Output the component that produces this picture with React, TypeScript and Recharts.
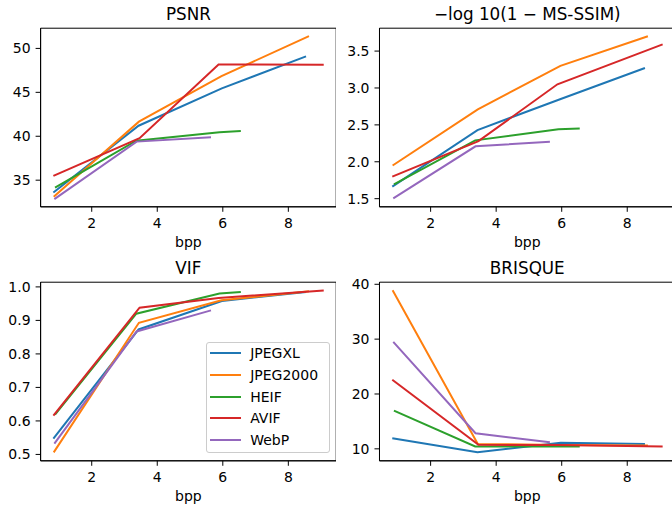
import React from 'react'
import { LineChart, Line, XAxis, YAxis, ReferenceArea, Legend } from 'recharts'

const FONT = '"DejaVu Sans", sans-serif'

const CODECS = ['JPEGXL', 'JPEG2000', 'HEIF', 'AVIF', 'WebP']
const COLORS = ['#1f77b4', '#ff7f0e', '#2ca02c', '#d62728', '#9467bd']

// bits per pixel for each codec
const BPP_JPEGXL = [0.83, 3.43, 5.97, 8.54]
const BPP_JPEG2000 = [0.84, 3.44, 5.96, 8.63]
const BPP_HEIF = [0.88, 3.36, 5.9, 6.55]
const BPP_AVIF = [0.83, 3.46, 5.87, 9.08]
const BPP_WEBP = [0.86, 3.37, 5.64]

const PSNR_JPEGXL = [33.6, 41.2, 45.45, 49.1]
const PSNR_JPEG2000 = [33.1, 41.66, 46.85, 51.4]
const PSNR_HEIF = [34.16, 39.5, 40.45, 40.6]
const PSNR_AVIF = [35.49, 39.77, 48.18, 48.15]
const PSNR_WEBP = [32.84, 39.39, 39.9]

const MSSSIM_JPEGXL = [1.663, 2.43, 2.85, 3.27]
const MSSSIM_JPEG2000 = [1.95, 2.71, 3.3, 3.7]
const MSSSIM_HEIF = [1.694, 2.29, 2.44, 2.45]
const MSSSIM_AVIF = [1.798, 2.28, 3.05, 3.59]
const MSSSIM_WEBP = [1.505, 2.21, 2.27]

const VIF_JPEGXL = [0.547, 0.873, 0.958, 0.985]
const VIF_JPEG2000 = [0.506, 0.893, 0.96, 0.987]
const VIF_HEIF = [0.619, 0.92, 0.98, 0.985]
const VIF_AVIF = [0.616, 0.938, 0.967, 0.989]
const VIF_WEBP = [0.532, 0.867, 0.93]

const BRISQUE_JPEGXL = [11.94, 9.4, 11.1, 10.9]
const BRISQUE_JPEG2000 = [38.9, 10.9, 10.7, 10.6]
const BRISQUE_HEIF = [16.97, 10.42, 10.42, 10.42]
const BRISQUE_AVIF = [22.6, 10.73, 10.7, 10.42]
const BRISQUE_WEBP = [29.5, 12.85, 11.2]

const X_TICKS = [2, 4, 6, 8]
const PSNR_TICKS = [35, 40, 45, 50]
const MSSSIM_TICKS = [1.5, 2.0, 2.5, 3.0, 3.5]
const VIF_TICKS = [0.5, 0.6, 0.7, 0.8, 0.9, 1.0]
const BRISQUE_TICKS = [10, 20, 30, 40]

const BPP = [BPP_JPEGXL, BPP_JPEG2000, BPP_HEIF, BPP_AVIF, BPP_WEBP]

const toSeries = (values: number[][]) =>
  values.map((vals, i) => vals.map((y, j) => ({ x: BPP[i][j], y })))

type Pt = { x: number, y: number }

type PanelProps = {
  title: string
  left: number
  top: number
  yAxisWidth: number
  chartWidth: number
  yDomain: [number, number]
  yTicks: number[]
  fmt: (v: number) => string
  series: Pt[][]
  legend?: boolean
}

const X_DOMAIN: [number, number] = [0.44, 9.46]

const renderLegend = (props: any) => {
  // keep the plotting order, not alphabetical
  const items = [...(props.payload || [])].sort(
    (a: any, b: any) => CODECS.indexOf(a.value) - CODECS.indexOf(b.value)
  )
  return (
    <div style={{
      width: 124, height: 111, boxSizing: 'border-box', border: '1px solid #cccccc',
      borderRadius: 3, background: 'rgba(255,255,255,0.8)', fontFamily: FONT, fontSize: 14,
      color: '#000', paddingTop: 0
    }}>
      {items.map((it: any) => (
        <div key={it.value} style={{ height: 21.6, display: 'flex', alignItems: 'center' }}>
          <div style={{ marginLeft: 3.5, width: 31, height: 2, background: it.color }} />
          <span style={{ marginLeft: 9, lineHeight: '14px' }}>{it.value}</span>
        </div>
      ))}
    </div>
  )
}

function Panel({ title, left, top, yAxisWidth, chartWidth, yDomain, yTicks, fmt, series, legend }: PanelProps) {
  const plotWidth = chartWidth - yAxisWidth
  return (
    <div style={{ position: 'absolute', left, top, width: chartWidth, height: 254 }}>
      <svg width={chartWidth} height={30} style={{ position: 'absolute', left: 0, top: 0 }}>
        <text x={yAxisWidth + plotWidth / 2} y={20} textAnchor="middle" fontFamily={FONT} fontSize={16.8} fill="#000">
          {title}
        </text>
      </svg>
      <LineChart width={chartWidth} height={254} margin={{ top: 28.2, right: 0, left: 0, bottom: 0 }}>
        <XAxis
          dataKey="x"
          type="number"
          domain={X_DOMAIN}
          allowDataOverflow
          ticks={X_TICKS}
          interval={0}
          height={47.2}
          tickSize={5}
          tickMargin={6}
          stroke="#000"
          tick={{ fill: '#000', fontSize: 14, fontFamily: FONT }}
          label={{ value: 'bpp', position: 'insideBottom', offset: 7, fill: '#000', fontSize: 14, fontFamily: FONT }}
        />
        <YAxis
          type="number"
          domain={yDomain}
          allowDataOverflow
          ticks={yTicks}
          interval={0}
          width={yAxisWidth}
          tickSize={5}
          tickMargin={5}
          stroke="#000"
          tickFormatter={fmt}
          tick={{ fill: '#000', fontSize: 14, fontFamily: FONT }}
        />
        {series.map((s, i) => (
          <Line
            key={CODECS[i]}
            name={CODECS[i]}
            data={s}
            dataKey="y"
            type="linear"
            stroke={COLORS[i]}
            strokeWidth={2}
            dot={false}
            activeDot={false}
            isAnimationActive={false}
          />
        ))}
        <ReferenceArea
          x1={X_DOMAIN[0]} x2={X_DOMAIN[1]} y1={yDomain[0]} y2={yDomain[1]}
          fill="none" fillOpacity={0} stroke="#000" strokeWidth={1} ifOverflow="visible"
        />
        {legend && (
          <Legend
            layout="vertical"
            align="center"
            verticalAlign="middle"
            content={renderLegend}
            wrapperStyle={{ left: 205.7, top: 87.7, width: 124 }}
          />
        )}
      </LineChart>
    </div>
  )
}

export default function App() {
  const one = (v: number) => v.toFixed(1)
  const int = (v: number) => String(v)
  return (
    <div style={{ position: 'absolute', left: 0, top: 0, width: 672, height: 508, overflow: 'hidden', background: '#fff' }}>
      <Panel title="PSNR" left={0} top={0} yAxisWidth={40.6} chartWidth={336.2}
        yDomain={[31.97, 52.3]} yTicks={PSNR_TICKS} fmt={int}
        series={toSeries([PSNR_JPEGXL, PSNR_JPEG2000, PSNR_HEIF, PSNR_AVIF, PSNR_WEBP])} />
      <Panel title="−log 10(1 − MS-SSIM)" left={336} top={0} yAxisWidth={43.5} chartWidth={339.1}
        yDomain={[1.39, 3.81]} yTicks={MSSSIM_TICKS} fmt={one}
        series={toSeries([MSSSIM_JPEGXL, MSSSIM_JPEG2000, MSSSIM_HEIF, MSSSIM_AVIF, MSSSIM_WEBP])} />
      <Panel title="VIF" left={0} top={254} yAxisWidth={40.6} chartWidth={336.2}
        yDomain={[0.481, 1.014]} yTicks={VIF_TICKS} fmt={one} legend
        series={toSeries([VIF_JPEGXL, VIF_JPEG2000, VIF_HEIF, VIF_AVIF, VIF_WEBP])} />
      <Panel title="BRISQUE" left={336} top={254} yAxisWidth={43.5} chartWidth={339.1}
        yDomain={[7.82, 40.38]} yTicks={BRISQUE_TICKS} fmt={int}
        series={toSeries([BRISQUE_JPEGXL, BRISQUE_JPEG2000, BRISQUE_HEIF, BRISQUE_AVIF, BRISQUE_WEBP])} />
    </div>
  )
}
